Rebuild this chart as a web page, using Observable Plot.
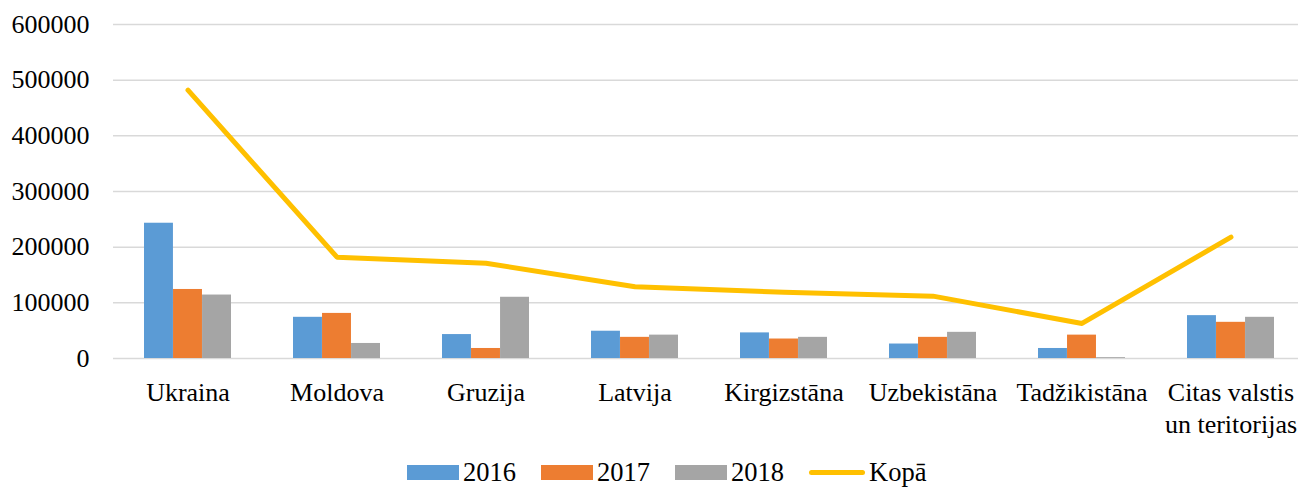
<!DOCTYPE html>
<html>
<head>
<meta charset="utf-8">
<script src="https://cdn.jsdelivr.net/npm/d3@7"></script>
<script src="https://cdn.jsdelivr.net/npm/@observablehq/plot@0.6"></script>
<style>
  html, body { margin: 0; padding: 0; background: #fff; }
  #wrap { position: relative; width: 1298px; height: 487px; font-family: "Liberation Serif", "Times New Roman", serif; }
  #legend { position: absolute; left: 407px; top: 457px; display: flex; align-items: center; font-size: 26.5px; color: #000; }
  .item { display: flex; align-items: center; margin-right: 25px; }
  .sw { width: 52px; height: 15px; margin-right: 4px; }
  .ln { width: 56px; height: 5px; border-radius: 3px; margin-right: 4px; }
</style>
</head>
<body>
<div id="wrap"><div id="chart"></div><div id="legend"></div></div>
<script>
const countries = ["Ukraina", "Moldova", "Gruzija", "Latvija", "Kirgizstāna", "Uzbekistāna", "Tadžikistāna", "Citas valstis\nun teritorijas"];
const v2016 = [243000, 74000, 43000, 49000, 46000, 26000, 18000, 77000];
const v2017 = [124000, 81000, 18000, 38000, 35000, 38000, 42000, 65000];
const v2018 = [114000, 27000, 110000, 42000, 38000, 47000, 1500, 74000];
const kopa  = [482000, 182000, 171000, 129000, 119000, 112000, 63000, 218000];
const yTicks = [0, 100000, 200000, 300000, 400000, 500000, 600000];
const seriesNames = ["2016", "2017", "2018", "Kopā"];
const colors = ["#5B9BD5", "#ED7D31", "#A5A5A5", "#FFC000"];

const rows = countries.map((c, i) => ({country: c, a: v2016[i], b: v2017[i], c: v2018[i], total: kopa[i]}));

const width = 1298, height = 440;
const xRange = [113, 1306];
const padInner = 0.416, padOuter = 0.208;
const step = (xRange[1] - xRange[0]) / (countries.length - padInner + 2 * padOuter);
const bw = step * (1 - padInner);
const third = bw / 3;

const chart = Plot.plot({
  width, height,
  marginTop: 24, marginBottom: 82, marginLeft: 113, marginRight: 0,
  style: {fontFamily: "Liberation Serif, Times New Roman, serif", fontSize: "26px", color: "#000", background: "#fff"},
  x: {domain: countries, range: xRange, paddingInner: padInner, paddingOuter: padOuter, axis: null},
  y: {domain: [0, 600000], axis: null},
  marks: [
    Plot.gridY(yTicks, {stroke: "#d9d9d9", strokeOpacity: 1, strokeWidth: 1.5}),
    Plot.barY(rows, {x: "country", y: "a", fill: colors[0], insetLeft: 0, insetRight: 2 * third}),
    Plot.barY(rows, {x: "country", y: "b", fill: colors[1], insetLeft: third, insetRight: third}),
    Plot.barY(rows, {x: "country", y: "c", fill: colors[2], insetLeft: 2 * third, insetRight: 0}),
    Plot.line(rows, {x: "country", y: "total", stroke: colors[3], strokeWidth: 5, strokeLinecap: "round", strokeLinejoin: "round"}),
    Plot.axisY(yTicks, {tickSize: 0, tickPadding: 24, tickFormat: d3.format("d"), fontSize: 26, fill: "#000", label: null}),
    Plot.axisX({tickSize: 0, tickPadding: 20, fontSize: 26, lineHeight: 1.23, fill: "#000", label: null})
  ]
});
document.getElementById("chart").appendChild(chart);

const legend = document.getElementById("legend");
seriesNames.forEach((name, i) => {
  const item = document.createElement("div");
  item.className = "item";
  const sw = document.createElement("div");
  sw.className = i === 3 ? "ln" : "sw";
  sw.style.background = colors[i];
  const t = document.createElement("span");
  t.textContent = name;
  item.appendChild(sw);
  item.appendChild(t);
  legend.appendChild(item);
});
</script>
</body>
</html>
